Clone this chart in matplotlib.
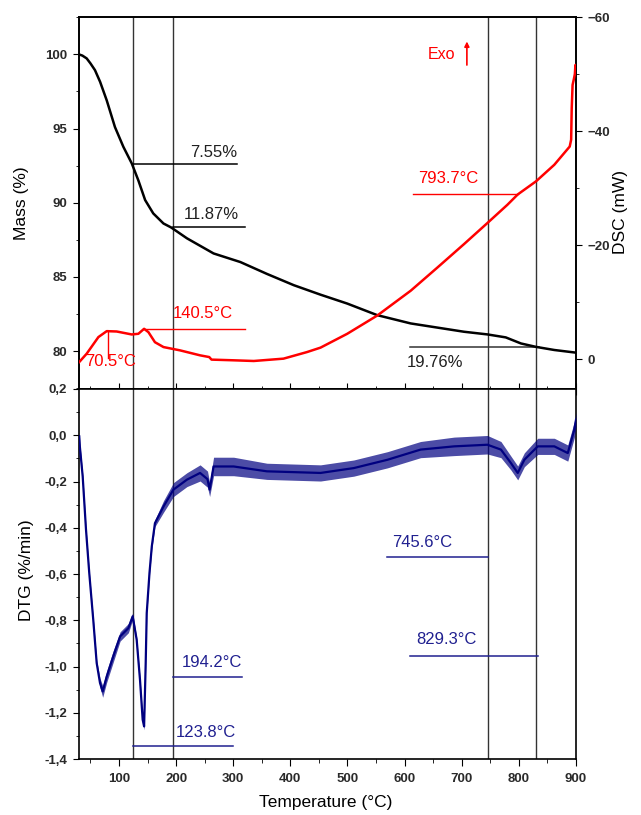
import matplotlib
matplotlib.use("Agg")
import matplotlib.pyplot as plt
from matplotlib.ticker import MultipleLocator, FuncFormatter

plt.rcParams['font.family'] = ['Liberation Sans', 'DejaVu Sans']

# TG curve (mass %)
tg_temp = [30, 36, 43.5, 50, 58, 67, 78.6, 93, 107.7, 122.4, 134, 145.8, 160, 177.9, 191.4,
           219, 265.6, 312.5, 359, 406, 452.8, 499.6, 552, 610.7, 704, 745, 777,
           803.7, 830, 862, 900]
tg_mass = [100.0, 99.92, 99.73, 99.4, 98.94, 98.15, 96.9, 95.1, 93.77, 92.65, 91.5, 90.18,
           89.28, 88.6, 88.33, 87.6, 86.58, 86.0, 85.2, 84.44, 83.8, 83.2, 82.42, 81.86,
           81.3, 81.12, 80.92, 80.51, 80.28, 80.07, 79.89]

# DSC curve (mW)
dsc_temp = [30.5, 43.5, 64, 78.6, 96, 122.4, 134, 144, 151.6, 163, 178, 207, 242, 258,
            262, 300.7, 336, 388, 429, 452.8, 499.6, 552, 610.7, 657.5, 704, 745, 780,
            798, 830, 862, 889, 891.5, 892.5, 894, 896, 898, 899, 900]
dsc_mw = [0.47, -0.99, -3.9, -4.94, -4.88, -4.36, -4.48, -5.35, -4.76, -3.0, -2.15,
          -1.57, -0.7, -0.4, 0.05, 0.17, 0.29, -0.12, -1.27, -2.05, -4.48, -7.67, -12.03,
          -16.1, -20.2, -23.9, -27.1, -28.9, -31.2, -34.1, -37.3, -38.5, -44.0, -48.1,
          -49.0, -50.0, -51.6, -51.3]

# DTG curve (%/min), mean trace and half-width of the noise band
dtg_temp = [30.5, 31.5, 36.5, 42.3, 48, 55, 61, 66.8, 71.5, 78.6, 90, 102, 116.5, 124,
            131, 136.8, 141.5, 144, 146.8, 148.6, 153.4, 157.5, 163, 178, 195.4, 219,
            242, 255, 258.7, 265.6, 300.7, 359, 452.8, 511, 570, 628, 686.7, 745,
            768.6, 786, 798, 809.6, 833, 862, 885.6, 897, 900]
dtg_val = [-0.005, -0.048, -0.178, -0.408, -0.596, -0.798, -0.985, -1.071, -1.108,
           -1.043, -0.956, -0.87, -0.834, -0.783, -0.884, -1.057, -1.23, -1.259, -0.985,
           -0.769, -0.596, -0.48, -0.38, -0.308, -0.235, -0.192, -0.163, -0.19, -0.235,
           -0.135, -0.135, -0.156, -0.163, -0.142, -0.106, -0.062, -0.048, -0.041,
           -0.062, -0.12, -0.163, -0.106, -0.048, -0.048, -0.077, 0.024, 0.067]
dtg_noise = [0.015, 0.015, 0.012, 0.01, 0.01, 0.01, 0.012, 0.02, 0.025, 0.025, 0.025,
             0.02, 0.02, 0.015, 0.01, 0.01, 0.012, 0.015, 0.01, 0.01, 0.01, 0.012,
             0.015, 0.025, 0.03, 0.03, 0.035, 0.035, 0.03, 0.04, 0.04, 0.035, 0.035,
             0.035, 0.035, 0.035, 0.04, 0.04, 0.035, 0.03, 0.03, 0.03, 0.035, 0.035,
             0.035, 0.035, 0.03]

vlines_temp = [123.8, 194.2, 745.6, 829.3]

navy = '#000080'
note_blue = '#202090'
red = '#ff0000'
tick_kw = dict(labelsize=9.5, labelcolor='#2a2a2a')

fig = plt.figure(figsize=(6.41, 8.15), dpi=100)
ax_tg = fig.add_axes([0.1232, 0.5227, 0.7754, 0.4564])
ax_dsc = ax_tg.twinx()
ax_dtg = fig.add_axes([0.1232, 0.0687, 0.7754, 0.4540])

# top panel: mass and DSC
ax_tg.plot(tg_temp, tg_mass, color='black', lw=1.8, zorder=3)
ax_dsc.plot(dsc_temp, dsc_mw, color=red, lw=1.8, zorder=3)

ax_tg.set_xlim(30, 900)
ax_tg.set_ylim(77.44, 102.52)
ax_dsc.set_ylim(5.2, -60)

for ax in (ax_tg, ax_dtg):
    for t in vlines_temp:
        ax.axvline(t, color='#333333', lw=1.0, zorder=2)

# mass loss markers
ax_tg.plot([123.8, 307], [92.6, 92.6], color='black', lw=1.1)
ax_tg.text(224.7, 93.11, '7.55%', fontsize=12, color='#202020')
ax_tg.plot([194.2, 321], [88.33, 88.33], color='black', lw=1.1)
ax_tg.text(214, 88.93, '11.87%', fontsize=12, color='#202020')
ax_tg.plot([610, 835], [80.24, 80.24], color='#333333', lw=1.1)
ax_tg.text(603.7, 78.95, '19.76%', fontsize=12, color='#202020')

# DSC markers
ax_dsc.plot([142, 320], [-5.4, -5.4], color=red, lw=1.0)
ax_dsc.text(195, -7.24, '140.5°C', fontsize=12, color=red)
ax_dsc.plot([80, 80], [-4.9, -0.2], color=red, lw=1.0)
ax_dsc.text(40.5, 1.13, '70.5°C', fontsize=12, color=red)
ax_dsc.plot([614, 798], [-28.9, -28.9], color=red, lw=1.0)
ax_dsc.text(623, -30.95, '793.7°C', fontsize=12, color=red)
ax_dsc.text(640.5, -52.57, 'Exo', fontsize=11.5, color=red)
ax_dsc.annotate('', xy=(709, -56.2), xytext=(709, -51.1),
                arrowprops=dict(arrowstyle='-|>', color=red, lw=1.2, mutation_scale=7))

ax_tg.xaxis.set_major_locator(MultipleLocator(100))
ax_tg.xaxis.set_minor_locator(MultipleLocator(50))
ax_tg.tick_params(axis='x', which='both', direction='inout', labelbottom=False)
ax_tg.tick_params(axis='x', which='major', length=8)
ax_tg.tick_params(axis='x', which='minor', length=5)
ax_tg.yaxis.set_major_locator(MultipleLocator(5))
ax_tg.yaxis.set_minor_locator(MultipleLocator(2.5))
ax_tg.tick_params(axis='y', which='major', direction='out', length=4.5, pad=4, **tick_kw)
ax_tg.tick_params(axis='y', which='minor', direction='out', length=2.5)

ax_dsc.yaxis.set_minor_locator(MultipleLocator(10))
ax_dsc.set_yticks([0, -20, -40, -60])
ax_dsc.tick_params(axis='y', which='major', direction='out', length=4.5, pad=4, **tick_kw)
ax_dsc.tick_params(axis='y', which='minor', direction='out', length=2.5)

# bottom panel: DTG
lo = [v - n for v, n in zip(dtg_val, dtg_noise)]
hi = [v + n for v, n in zip(dtg_val, dtg_noise)]
ax_dtg.fill_between(dtg_temp, lo, hi, color=navy, alpha=0.7, lw=0, zorder=3)
ax_dtg.plot(dtg_temp, dtg_val, color=navy, lw=1.6, zorder=3)

ax_dtg.set_xlim(30, 900)
ax_dtg.set_ylim(-1.4, 0.2)

ax_dtg.plot([194.2, 316], [-1.047, -1.047], color=note_blue, lw=1.1)
ax_dtg.text(210.7, -1.003, '194.2°C', fontsize=12, color=note_blue)
ax_dtg.plot([123.8, 300], [-1.345, -1.345], color=note_blue, lw=1.1)
ax_dtg.text(200, -1.306, '123.8°C', fontsize=12, color=note_blue)
ax_dtg.plot([570, 745.6], [-0.528, -0.528], color=note_blue, lw=1.1)
ax_dtg.text(579, -0.484, '745.6°C', fontsize=12, color=note_blue)
ax_dtg.plot([610, 833], [-0.953, -0.953], color=note_blue, lw=1.1)
ax_dtg.text(621, -0.904, '829.3°C', fontsize=12, color=note_blue)


def comma_fmt(v, pos):
    if abs(v) < 1e-9:
        v = 0.0
    return f"{v:.1f}".replace('.', ',')


ax_dtg.yaxis.set_major_locator(MultipleLocator(0.2))
ax_dtg.yaxis.set_minor_locator(MultipleLocator(0.1))
ax_dtg.yaxis.set_major_formatter(FuncFormatter(comma_fmt))
ax_dtg.tick_params(axis='y', which='major', direction='out', length=4.5, pad=4, **tick_kw)
ax_dtg.tick_params(axis='y', which='minor', direction='out', length=2.5)
ax_dtg.xaxis.set_major_locator(MultipleLocator(100))
ax_dtg.xaxis.set_minor_locator(MultipleLocator(50))
ax_dtg.tick_params(axis='x', which='major', direction='out', length=5, pad=5, **tick_kw)
ax_dtg.tick_params(axis='x', which='minor', direction='out', length=3)

for ax in (ax_tg, ax_dsc, ax_dtg):
    for s in ax.spines.values():
        s.set_linewidth(1.2)
    for lbl in ax.get_xticklabels() + ax.get_yticklabels():
        lbl.set_fontweight('bold')

fig.text(22 / 641, 1 - 203 / 815, 'Mass (%)', rotation=90, ha='center', va='center', fontsize=12.5)
fig.text(620 / 641, 1 - 212 / 815, 'DSC (mW)', rotation=90, ha='center', va='center', fontsize=12.5)
fig.text(27 / 641, 1 - 570 / 815, 'DTG (%/min)', rotation=90, ha='center', va='center', fontsize=12.5)
fig.text(326 / 641, 1 - 803 / 815, 'Temperature (°C)', ha='center', va='center', fontsize=12.5)

fig.savefig('out.png', dpi=100)
